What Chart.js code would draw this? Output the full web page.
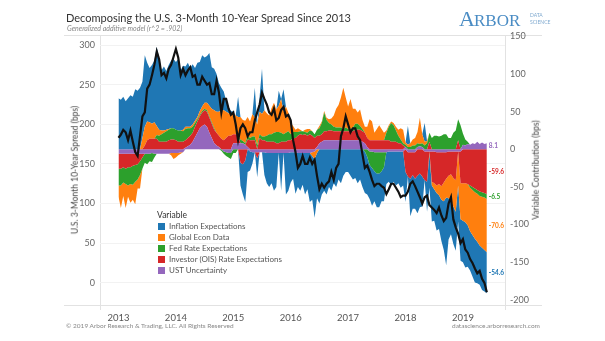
<!DOCTYPE html>
<html>
<head>
<meta charset="utf-8">
<script src="https://cdn.jsdelivr.net/npm/chart.js@4.4.0/dist/chart.umd.min.js"></script>
<style>
  body { margin: 0; background: #fff; }
  #wrap { position: relative; width: 605px; height: 341px; overflow: hidden; font-family: 'Lato', 'Open Sans', sans-serif; }
  #chart { position: absolute; left: 0; top: 0; }
  .t { position: absolute; white-space: nowrap; line-height: 1; }
  .sw { position: absolute; width: 7px; height: 7px; }
</style>
</head>
<body>
<div id="wrap">
  <canvas id="chart" width="605" height="341"></canvas>

  <div class="t" style="left:66px;top:12px;font-size:11px;color:#333;">Decomposing the U.S. 3-Month 10-Year Spread Since 2013</div>
  <div class="t" style="left:67px;top:25px;font-size:7px;color:#888;font-style:italic;">Generalized additive model (r^2 = .902)</div>

  <div class="t" style="left:459px;top:8px;font-size:22px;color:#4a8cc4;font-family:'Liberation Serif',serif;">A</div>
  <div class="t" style="left:474px;top:12px;font-size:17px;color:#4a8cc4;font-family:'Liberation Serif',serif;">RBOR</div>
  <div class="t" style="left:530px;top:13px;font-size:5px;color:#7fa9cf;">DATA</div>
  <div class="t" style="left:530px;top:20px;font-size:5px;color:#7fa9cf;">SCIENCE</div>

  <div class="t" style="left:66px;top:323px;font-size:6.5px;color:#888;">© 2019 Arbor Research &amp; Trading, LLC. All Rights Reserved</div>
  <div class="t" style="left:452px;top:323px;font-size:6.5px;color:#888;">datascience.arborresearch.com</div>

  <div class="t" style="left:75px;top:170px;font-size:8.5px;color:#444;transform:translate(-50%,-50%) rotate(-90deg);">U.S. 3-Month 10-Year Spread (bps)</div>
  <div class="t" style="left:536px;top:170px;font-size:8.5px;color:#444;transform:translate(-50%,-50%) rotate(-90deg);">Variable Contribution (bps)</div>

  <div id="legend"></div>
</div>

<script>
// half-month steps from Jan 2013 to Jun 2019
const startYear = 2013;
const nSteps = 155;
const years = [];
for (let h = 0; h < nSteps; h++) years.push(startYear + h / 24);

// 3m-10y spread (bps), left axis
const spread = [
  183, 187, 193, 190, 180, 192, 178, 165, 160, 185, 210, 215, 245, 250, 262, 275, 292, 282, 262, 265, 258, 270, 275, 285,
  295, 284, 262, 270, 262, 268, 272, 260, 262, 250, 250, 260, 255, 250, 252, 238, 238, 255, 240, 215, 232, 232, 220, 212,
  215, 200, 180, 195, 200, 195, 185, 190, 190, 205, 215, 225, 240, 232, 225, 215, 212, 220, 205, 208, 218, 222, 210, 212,
  205, 180, 165, 145, 150, 160, 150, 150, 158, 150, 155, 135, 118, 125, 120, 125, 128, 140, 130, 145, 150, 185, 195, 210,
  200, 190, 195, 195, 185, 180, 162, 145, 148, 140, 130, 122, 125, 125, 122, 120, 112, 118, 125, 125, 120, 115, 108, 110,
  110, 115, 125, 128, 122, 115, 108, 100, 108, 110, 98, 95, 92, 88, 95, 85, 78, 82, 100, 108, 80, 70, 62, 50,
  55, 42, 38, 30, 25, 18, 12, 15, 5, 0, -12
];

// variable contributions (bps), right axis
const inflation = [
  68, 66, 70, 64, 68, 72, 70, 80, 78, 82, 75, 95, 78, 72, 78, 82, 105, 95, 80, 85, 78, 85, 90, 92,
  90, 95, 80, 85, 80, 85, 78, 80, 70, 72, 65, 68, 60, 62, 70, 55, 55, 50, 38, 30, 25, 15, 8, 5,
  0, 0, 27, -30, -40, -55, -30, -25, -15, 40, -25, 20, 60, -30, -40, -45, -40, -50, -45, 20, -50, 30, -55, -50,
  -40, -35, -55, -45, -50, -42, -55, -48, -65, -58, -78, -60, -72, -60, -55, -60, -50, -55, -45, -50, -40, -45, -35, -30,
  -30, -35, -40, -38, -45, -40, -50, -55, -50, -45, -50, -40, -45, -45, -40, -45, -42, -40, -45, -40, -45, -42, -48, -45,
  -40, 25, -50, -45, -40, -50, -45, -40, 25, -40, -45, -48, -42, -50, -45, -55, -65, -90, -55, -45, -50, -52, -48, -55,
  -55, -60, -55, -52, -55, -58, -55, -52, -56, -55, -54.6
];
const econData = [
  -15, -30, -18, -32, -15, -25, -20, -30, -12, -18, 15, 25, 25, 22, 20, 22, 12, 8, 5, 3, 2, 1, -3, -8,
  -6, -3, -2, 2, 3, 2, 2, 3, 3, 3, 5, 6, 8, 10, 14, 18, 24, 28, 32, 38, 40, 35, 30, 28,
  30, 25, 25, 30, 28, 30, 25, 22, 30, 25, 28, 30, 30, 35, 30, 25, 35, 40, 30, 35, 45, 30, 35, 25,
  15, 8, 3, 5, 2, 0, 3, 5, 2, -5, -10, -5, 3, 2, 2, 3, 5, 8, 15, 25, 30, 40, 55, 40,
  30, 40, 25, 20, 15, 22, 12, 8, 15, 28, 25, 10, 15, 20, 15, 10, 3, 2, 2, 3, 5, 8, 15, 18,
  3, 3, 5, 8, 10, 15, 35, 12, 5, 3, -3, -5, -8, -10, -15, -18, -25, -25, -30, -35, -38, -42, -45, -48,
  -50, -52, -55, -58, -60, -62, -64, -66, -68, -70, -70.6
];
const fedRate = [
  -22, -22, -20, -20, -24, -22, -25, -22, -20, -18, -15, -12, -14, -10, -12, -5, 5, 8, 10, 12, 14, 14, 15, 15,
  14, 15, 15, 14, 15, 13, 10, 8, 5, 3, 2, 2, 2, 2, 2, 2, 2, 0, 0, -2, -3, -5, -6, -8,
  -5, -5, 0, 5, 3, 2, 5, 3, 5, 5, 5, 5, 5, 5, 8, 10, 10, 12, 15, 15, 12, 10, 12, 12,
  8, 8, 8, 5, 4, 5, 3, 4, 5, 6, 5, 8, 10, 15, 25, 15, 10, 8, 6, 5, 5, 5, 3, 5,
  3, 3, 5, 8, 8, 5, 3, -3, -10, -18, -22, -25, -28, -28, -25, -20, 10, 18, 25, 22, 15, 10, 5, 3,
  3, 3, 3, 5, 5, 5, 3, 5, 5, 8, 12, 15, 18, 18, 17, 18, 20, 20, 15, 15, 22, 25, 28, 32,
  15, 8, 3, -3, -4, -5, -5, -6, -6, -6, -6.5
];
const oisRate = [
  -20, -20, -18, -20, -18, -18, -16, -15, -14, -10, -5, 5, 12, 14, 14, 14, 14, 10, 10, 10, 10, 12, 13, 13,
  12, 10, 10, 10, 10, 11, 12, 12, 14, 15, 16, 18, 19, 20, 20, 19, 18, 17, 15, 14, 12, 15, 18, 18,
  12, 12, 10, -18, -20, -15, 10, 12, 12, 12, -8, 15, 12, 12, 10, 10, 10, 10, 8, 8, 10, 10, 10, 12,
  12, 15, 15, 18, 20, 19, 20, 18, 20, 18, 15, 15, 10, 10, 12, 12, 13, 13, 12, 12, 12, 12, 12, 12,
  12, 12, 12, 14, 14, 14, 14, 14, 12, 12, 12, 12, 12, 12, 12, 12, 12, 12, 10, 10, 10, 8, 8, 5,
  -30, -32, -35, -30, -35, -35, -32, -36, -38, -40, 10, -40, -42, -44, -42, -45, -40, -35, -32, -30, -35, -38, 12, -42,
  -45, -45, -46, -48, -50, -52, -54, -56, -57, -58, -59.6
];
const ustUncert = [
  -6, -6, -6, -6, -6, -6, -6, -6, -6, -6, -6, -6, -6, -6, -5, -6, -6, -6, -6, -6, -6, -6, -5, -5,
  -5, -5, -4, -4, 2, 4, 6, 10, 16, 22, 28, 31, 33, 30, 22, 15, 8, 5, 3, 0, -3, -4, -5, -5,
  8, 8, 8, 8, 8, 6, 3, -3, -4, -4, -4, -4, -4, -4, -5, -5, -5, -5, -5, -5, -5, -5, -5, -5,
  -4, -4, -4, -5, -5, -5, -5, -5, -5, -4, -3, 3, 8, 10, 12, 12, 12, 12, 12, 12, 12, 12, 12, 12,
  12, 12, 12, 12, 12, 12, 10, 8, 3, -3, -3, -4, -4, -4, -4, -4, -4, -3, -3, -3, -3, -3, -3, -3,
  3, -4, -4, -4, -4, 3, 4, 3, -3, -3, -3, -3, -3, -4, -4, -4, -4, -4, -3, -3, -3, -3, -3, -3,
  6, 5, 7, 6, 8, 7, 10, 7, 9, 7, 8.1
];

const yearTicks = [2013, 2014, 2015, 2016, 2017, 2018, 2019];
const leftTicks = [0, 50, 100, 150, 200, 250, 300];
const rightTicks = [-200, -150, -100, -50, 0, 50, 100, 150];

// legend order (top to bottom); stacking goes the other way, from zero outwards
const legendSeries = [
  { name: 'Inflation Expectations', values: inflation, color: '#1f77b4' },
  { name: 'Global Econ Data', values: econData, color: '#ff7f0e' },
  { name: 'Fed Rate Expectations', values: fedRate, color: '#2ca02c' },
  { name: 'Investor (OIS) Rate Expectations', values: oisRate, color: '#d62728' },
  { name: 'UST Uncertainty', values: ustUncert, color: '#9467bd' }
];
const stackSeries = legendSeries.slice().reverse();

const legendEl = document.getElementById('legend');
let lh = '<div class="t" style="left:157px;top:211px;font-size:8.5px;color:#333;">Variable</div>';
legendSeries.forEach((s, i) => {
  const cy = 226 + i * 11.2;
  lh += `<div class="sw" style="left:158px;top:${cy - 3.5}px;background:${s.color};"></div>`;
  lh += `<div class="t" style="left:169px;top:${cy - 4.5}px;font-size:8px;color:#555;">${s.name}</div>`;
});
legendEl.innerHTML = lh;

const pts = arr => arr.map((v, i) => ({ x: years[i], y: v }));

// positive and negative parts stack separately, like the original
const datasets = [];
['pos', 'neg'].forEach(side => {
  stackSeries.forEach((s, k) => {
    const vals = s.values.map(v => side === 'pos' ? Math.max(v, 0) : Math.min(v, 0));
    datasets.push({
      label: s.name + ' ' + side,
      data: pts(vals),
      yAxisID: 'y2',
      stack: side,
      backgroundColor: s.color,
      borderColor: 'rgba(0,0,0,0)',
      borderWidth: 0,
      pointRadius: 0,
      tension: 0,
      fill: k === 0 ? 'origin' : '-1',
      order: 1
    });
  });
});
datasets.push({
  label: 'Spread',
  data: pts(spread),
  yAxisID: 'y',
  borderColor: '#111',
  borderWidth: 2.2,
  pointRadius: 0,
  tension: 0,
  fill: false,
  order: 0
});

const frame = {
  id: 'frame',
  beforeDraw(chart) {
    const { ctx, chartArea: a } = chart;
    ctx.save();
    ctx.strokeStyle = '#e2e2e2';
    ctx.lineWidth = 1;
    ctx.beginPath();
    ctx.moveTo(64, a.top + 0.5); ctx.lineTo(542, a.top + 0.5);
    ctx.moveTo(64, a.bottom + 0.5); ctx.lineTo(542, a.bottom + 0.5);
    ctx.moveTo(a.left + 0.5, a.top); ctx.lineTo(a.left + 0.5, a.bottom + 5);
    ctx.moveTo(a.right + 0.5, a.top); ctx.lineTo(a.right + 0.5, a.bottom + 5);
    ctx.stroke();
    ctx.restore();
  }
};

const endLabels = {
  id: 'endLabels',
  afterDatasetsDraw(chart) {
    const ctx = chart.ctx;
    const xs = chart.scales.x, y2 = chart.scales.y2;
    const last = years.length - 1;
    const x = xs.getPixelForValue(years[last]) + 2;
    let pos = 0, neg = 0;
    ctx.save();
    ctx.font = 'bold 6.5px Lato, sans-serif';
    ctx.textBaseline = 'middle';
    ctx.textAlign = 'left';
    stackSeries.forEach(s => {
      const v = s.values[last];
      let mid;
      if (v >= 0) { mid = pos + v / 2; pos += v; } else { mid = neg + v / 2; neg += v; }
      ctx.fillStyle = s.color;
      ctx.fillText(v.toFixed(1), x, y2.getPixelForValue(mid));
    });
    ctx.restore();
  }
};

Chart.defaults.font.family = "Lato, 'Open Sans', sans-serif";

new Chart(document.getElementById('chart'), {
  type: 'line',
  data: { datasets },
  plugins: [frame, endLabels],
  options: {
    responsive: false,
    animation: false,
    layout: { padding: { top: 35, left: 0, right: 0, bottom: 0 } },
    plugins: { legend: { display: false }, tooltip: { enabled: false } },
    scales: {
      x: {
        type: 'linear',
        min: 2012.678,
        max: 2019.733,
        afterBuildTicks: s => { s.ticks = yearTicks.map(v => ({ value: v })); },
        afterFit: s => { s.height = 36; },
        ticks: { callback: v => String(v), font: { size: 9.5 }, color: '#555', padding: 7, maxRotation: 0 },
        grid: { display: false, drawTicks: false },
        border: { display: false }
      },
      y: {
        position: 'left',
        min: -28,
        max: 312.7,
        afterBuildTicks: s => { s.ticks = leftTicks.map(v => ({ value: v })); },
        afterFit: s => { s.width = 100; },
        ticks: { font: { size: 9 }, color: '#666', padding: 5 },
        grid: { color: '#f2f2f2', drawTicks: false },
        border: { display: false }
      },
      y2: {
        position: 'right',
        stacked: true,
        min: -207,
        max: 152,
        afterBuildTicks: s => { s.ticks = rightTicks.map(v => ({ value: v })); },
        afterFit: s => { s.width = 100; },
        ticks: { font: { size: 9 }, color: '#666', padding: 5 },
        grid: { display: false, drawTicks: false },
        border: { display: false }
      }
    }
  }
});
</script>
</body>
</html>
